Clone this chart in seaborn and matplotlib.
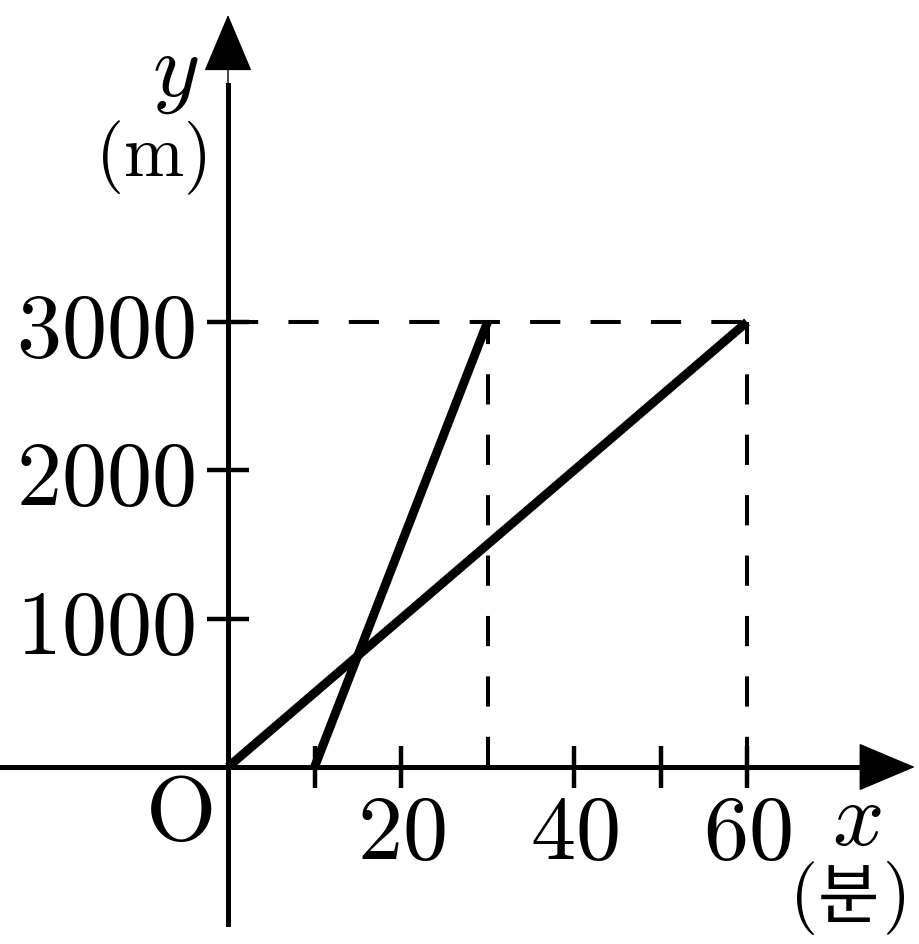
import matplotlib
matplotlib.use("Agg")
import matplotlib.pyplot as plt
import seaborn as sns
import pandas as pd

# data (minutes, meters)
walk_min = [0, 60]
walk_m = [0, 3000]
run_min = [10, 30]
run_m = [0, 3000]

x_major = [20, 40, 60]
x_minor = [10, 50]
y_ticks = [1000, 2000, 3000]

sns.set_style("white")
plt.rcParams["mathtext.fontset"] = "cm"
plt.rcParams["font.family"] = ["DejaVu Serif"]
plt.rcParams["text.color"] = "black"
plt.rcParams["xtick.color"] = "black"
plt.rcParams["ytick.color"] = "black"
plt.rcParams["axes.edgecolor"] = "black"

fig = plt.figure(figsize=(9.19, 9.45), dpi=100)
ax = fig.add_axes([0, 0, 1, 1])

xmin, xmax = -26.36, 79.88
ymin, ymax = -1193, 5177

# dashed guide lines
guide = dict(color="black", lw=2.9, dashes=(7.5, 7.5), zorder=1)
ax.plot([0, walk_min[1]], [walk_m[1], walk_m[1]], **guide)
ax.plot([run_min[1], run_min[1]], [0, run_m[1]], **guide)
ax.plot([walk_min[1], walk_min[1]], [0, walk_m[1]], **guide)

# the two graphs
df1 = pd.DataFrame({"min": walk_min, "m": walk_m})
df2 = pd.DataFrame({"min": run_min, "m": run_m})
sns.lineplot(data=df1, x="min", y="m", ax=ax, color="black", lw=6.4,
             solid_capstyle="butt", zorder=3)
sns.lineplot(data=df2, x="min", y="m", ax=ax, color="black", lw=6.4,
             solid_capstyle="butt", zorder=3)
ax.set_xlabel("")
ax.set_ylabel("")
ax.set_xlim(xmin, xmax)
ax.set_ylim(ymin, ymax)

# axes through the origin
for s in ["top", "right"]:
    ax.spines[s].set_visible(False)
ax.spines["left"].set_position(("data", 0))
ax.spines["bottom"].set_position(("data", 0))
ax.spines["left"].set_linewidth(3.6)
ax.spines["bottom"].set_linewidth(3.6)
ax.spines["bottom"].set_bounds(xmin, 74)
ax.spines["left"].set_bounds(-1058, 4600)

ax.annotate("", xy=(79.4, 0), xytext=(70, 0),
            arrowprops=dict(arrowstyle="-|>,head_length=1.9,head_width=0.8",
                            mutation_scale=20, lw=1, color="black",
                            shrinkA=0, shrinkB=0))
ax.annotate("", xy=(0, 5070), xytext=(0, 4400),
            arrowprops=dict(arrowstyle="-|>,head_length=1.9,head_width=0.8",
                            mutation_scale=20, lw=1, color="black",
                            shrinkA=0, shrinkB=0))

fs = 65
ax.set_xticks(x_major)
ax.set_xticks(x_minor, minor=True)
ax.set_xticklabels([f"${v}$" for v in x_major], fontsize=fs)
ax.set_yticks(y_ticks)
ax.set_yticklabels([f"${v}$" for v in y_ticks], fontsize=fs)
ax.tick_params(axis="both", which="both", direction="inout", length=30,
               width=3.2, color="black", bottom=True, left=True)
ax.tick_params(axis="x", which="major", pad=1)
ax.tick_params(axis="y", which="major", pad=9)

# labels
ax.text(-6.1, 4692, r"$y$", fontsize=fs, ha="center", va="center")
ax.text(-9.0, 4110, r"$(\mathrm{m})$", fontsize=52, ha="center", va="center")
ax.text(-5.66, -317, r"$\mathrm{O}$", fontsize=fs, ha="center", va="center")
ax.text(72.7, -350, r"$x$", fontsize=fs, ha="center", va="center")
ax.text(67.9, -876, r"$($", fontsize=52, ha="right", va="center")
ax.text(71.7, -885, "분", fontsize=48, ha="center", va="center",
        family=["Noto Sans CJK KR", "DejaVu Sans"])
ax.text(75.6, -876, r"$)$", fontsize=52, ha="left", va="center")

fig.savefig("out.png", dpi=100, facecolor="white")
